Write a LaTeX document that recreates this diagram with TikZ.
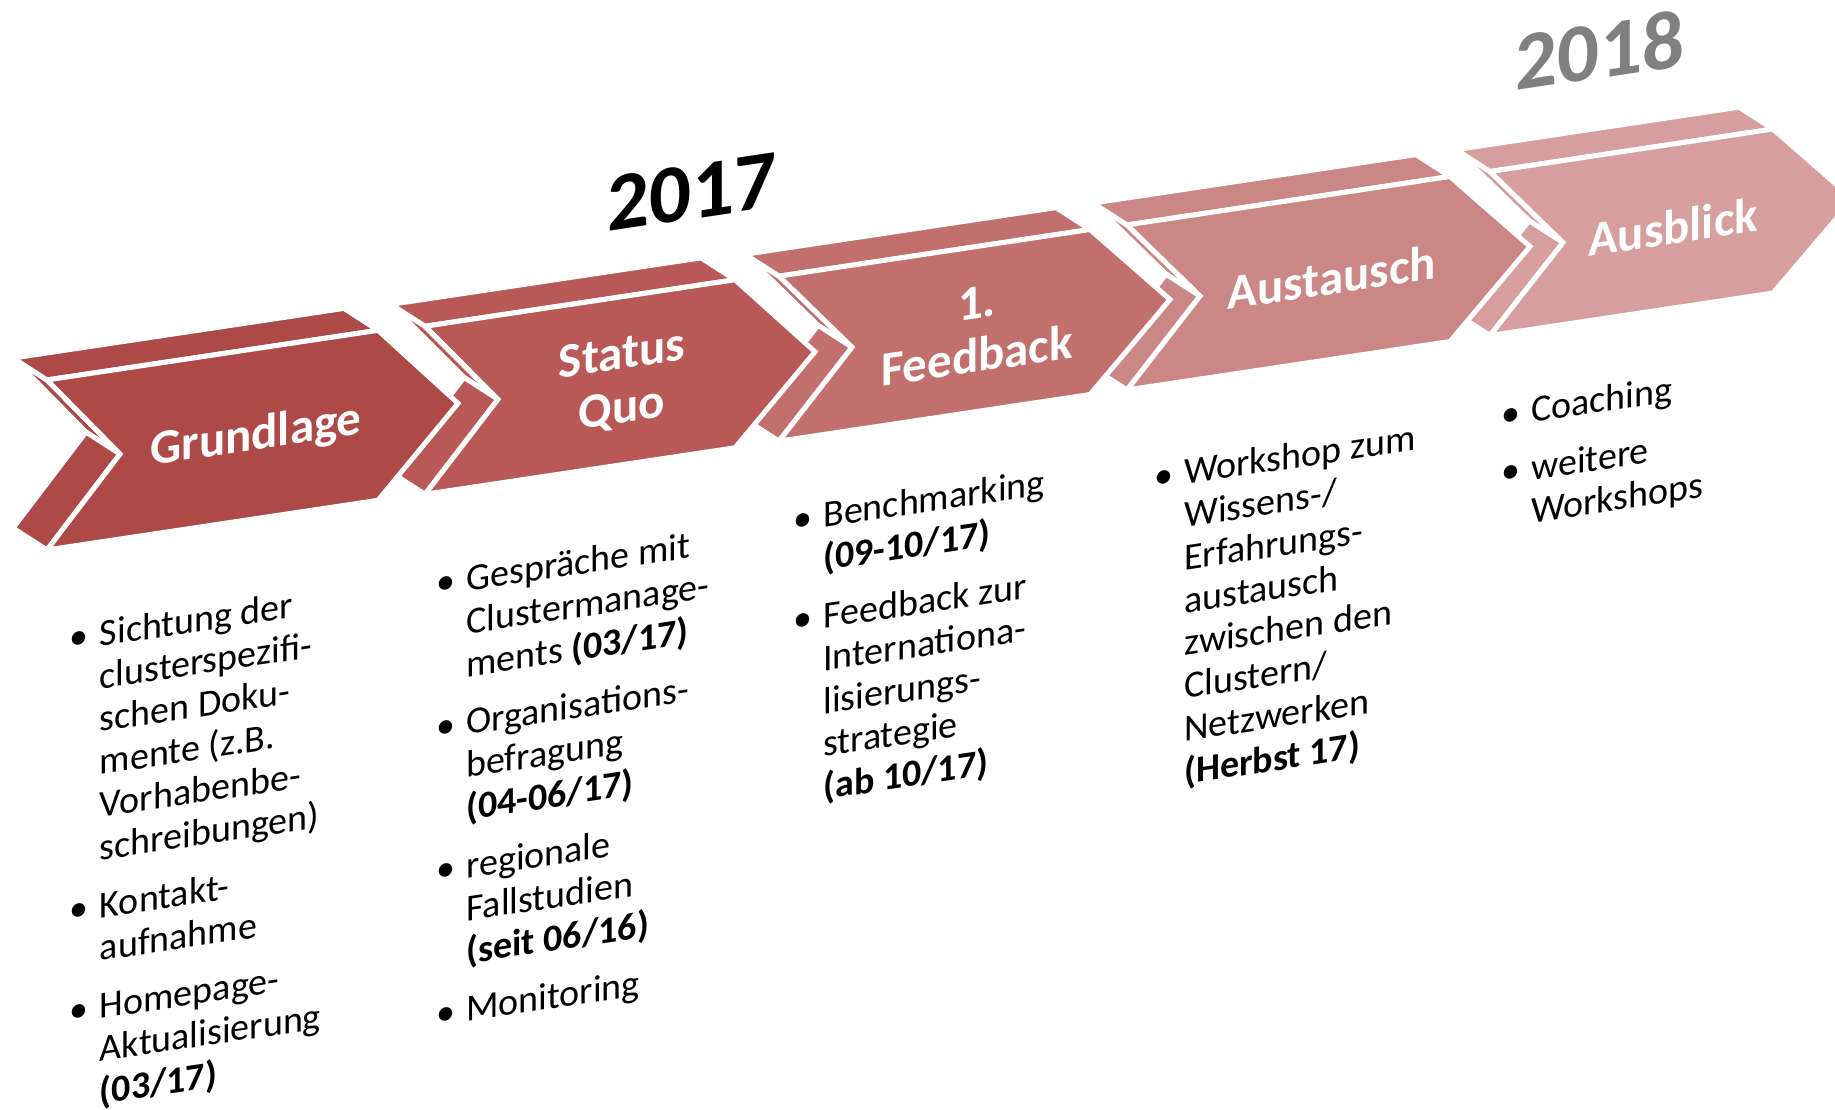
\documentclass[tikz,border=0pt]{standalone}
\usepackage{fontspec}
\setmainfont{Carlito}
\definecolor{stufeA}{RGB}{173,73,71}
\definecolor{stufeB}{RGB}{185,89,87}
\definecolor{stufeC}{RGB}{194,112,110}
\definecolor{stufeD}{RGB}{203,135,134}
\definecolor{stufeE}{RGB}{214,158,158}
\definecolor{jahrgrau}{RGB}{128,128,128}
\newcommand{\pkt}{\llap{\textbullet\hspace{5.5pt}}}

\begin{document}
\begin{tikzpicture}[x=0.5pt,y=0.5pt]
    \useasboundingbox (0,0) rectangle (1835,-1109);
    \begin{scope}[yslant=0.15, every node/.append style={transform shape},
        flaeche/.style={draw=white,line width=2.5pt},
        titel/.style={text=white,align=center,font=\bfseries\fontsize{24.5}{27}\selectfont},
        jahr/.style={font=\bfseries\fontsize{41.5}{45}\selectfont},
        liste/.style={anchor=north west,inner sep=0pt,font=\fontsize{19}{21.4}\selectfont}]
        \draw[flaeche,fill=stufeE] (1490,-395) -- (1563,-477) -- (1529,-450) -- (1456,-368) -- cycle;
        \draw[flaeche,fill=stufeE] (1563,-477) -- (1490,-559) -- (1456,-532) -- (1529,-450) -- cycle;
        \draw[flaeche,fill=stufeE] (1490,-395) -- (1773,-395) -- (1739,-368) -- (1456,-368) -- cycle;
        \draw[flaeche,fill=stufeE] (1490,-395) -- (1773,-395) -- (1853,-477) -- (1773,-559) -- (1490,-559) -- (1563,-477) -- cycle;
        \draw[flaeche,fill=stufeD] (1127,-394) -- (1200,-476) -- (1166,-449) -- (1093,-367) -- cycle;
        \draw[flaeche,fill=stufeD] (1200,-476) -- (1127,-559) -- (1093,-532) -- (1166,-449) -- cycle;
        \draw[flaeche,fill=stufeD] (1127,-394) -- (1450,-394) -- (1416,-367) -- (1093,-367) -- cycle;
        \draw[flaeche,fill=stufeD] (1127,-394) -- (1450,-394) -- (1530,-476) -- (1450,-559) -- (1127,-559) -- (1200,-476) -- cycle;
        \draw[flaeche,fill=stufeC] (779,-393) -- (852,-475) -- (818,-448) -- (745,-366) -- cycle;
        \draw[flaeche,fill=stufeC] (852,-475) -- (779,-558) -- (745,-531) -- (818,-448) -- cycle;
        \draw[flaeche,fill=stufeC] (779,-393) -- (1090,-393) -- (1056,-366) -- (745,-366) -- cycle;
        \draw[flaeche,fill=stufeC] (779,-393) -- (1090,-393) -- (1170,-475) -- (1090,-558) -- (779,-558) -- (852,-475) -- cycle;
        \draw[flaeche,fill=stufeB] (425,-390) -- (498,-474) -- (464,-447) -- (391,-363) -- cycle;
        \draw[flaeche,fill=stufeB] (498,-474) -- (425,-558) -- (391,-531) -- (464,-447) -- cycle;
        \draw[flaeche,fill=stufeB] (425,-390) -- (735,-390) -- (701,-363) -- (391,-363) -- cycle;
        \draw[flaeche,fill=stufeB] (425,-390) -- (735,-390) -- (815,-474) -- (735,-558) -- (425,-558) -- (498,-474) -- cycle;
        \draw[flaeche,fill=stufeA] (47,-387) -- (120,-472) -- (86,-445) -- (13,-360) -- cycle;
        \draw[flaeche,fill=stufeA] (120,-472) -- (47,-557) -- (13,-530) -- (86,-445) -- cycle;
        \draw[flaeche,fill=stufeA] (47,-387) -- (378,-387) -- (344,-360) -- (13,-360) -- cycle;
        \draw[flaeche,fill=stufeA] (47,-387) -- (378,-387) -- (458,-472) -- (378,-557) -- (47,-557) -- (120,-472) -- cycle;
        \node[titel] (grundlage) at (256,-475) {Grundlage};
        \node[titel] (statusquo) at (622,-476) {Status\\Quo};
        \node[titel] (feedback) at (977,-476) {1.\\Feedback};
        \node[titel] (austausch) at (1332,-477) {Austausch};
        \node[titel] (ausblick) at (1673,-478) {Ausblick};
        \node[jahr] (j2017) at (692,-296) {2017};
        \node[jahr,text=jahrgrau] (j2018) at (1600,-290) {2018};
        \node[liste] (liste1) at (99.5,-631) {\begin{tabular}{@{}l@{}}
            \pkt Sichtung der\\ clusterspezifi-\\ schen Doku-\\ mente (z.B.\\ Vorhabenbe-\\ schreibungen)\\[7.5pt]
            \pkt Kontakt-\\ aufnahme\\[7.5pt]
            \pkt Homepage-\\ Aktualisierung\\ \textbf{(03/17)}
        \end{tabular}};
        \node[liste] (liste2) at (466,-631) {\begin{tabular}{@{}l@{}}
            \pkt Gespräche mit\\ Clustermanage-\\ ments \textbf{(03/17)}\\[7.5pt]
            \pkt Organisations-\\ befragung\\ \textbf{(04-06/17)}\\[7.5pt]
            \pkt regionale\\ Fallstudien\\ \textbf{(seit 06/16)}\\[7.5pt]
            \pkt Monitoring
        \end{tabular}};
        \node[liste] (liste3) at (823,-621) {\begin{tabular}{@{}l@{}}
            \pkt Benchmarking\\ \textbf{(09-10/17)}\\[7.5pt]
            \pkt Feedback zur\\ Internationa-\\ lisierungs-\\ strategie\\ \textbf{(ab 10/17)}
        \end{tabular}};
        \node[liste] (liste4) at (1184,-632) {\begin{tabular}{@{}l@{}}
            \pkt Workshop zum\\ Wissens-/\\ Erfahrungs-\\ austausch\\ zwischen den\\ Clustern/\\ Netzwerken\\ \textbf{(Herbst 17)}
        \end{tabular}};
        \node[liste] (liste5) at (1531,-622) {\begin{tabular}{@{}l@{}}
            \pkt Coaching\\[7.5pt]
            \pkt weitere\\ Workshops
        \end{tabular}};
    \end{scope}
\end{tikzpicture}
\end{document}
